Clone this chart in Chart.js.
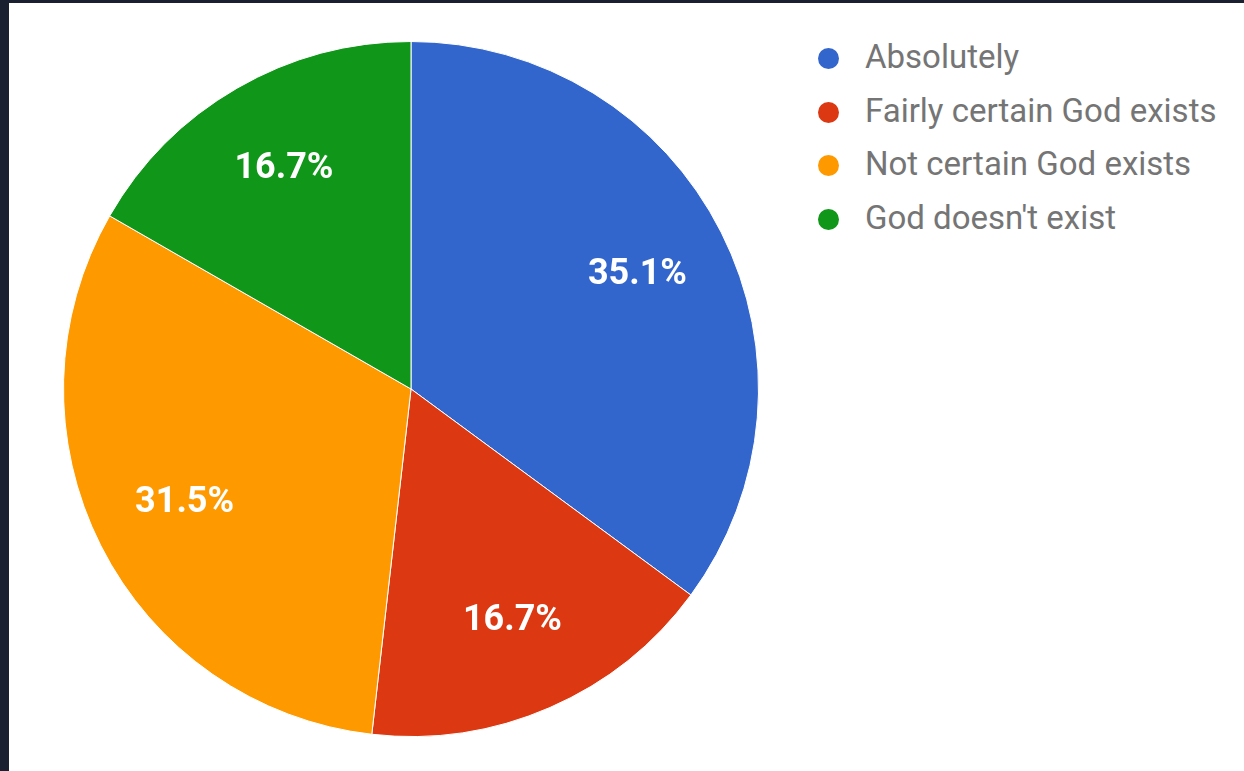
<!DOCTYPE html>
<html>
<head>
<meta charset="utf-8">
<script src="https://cdn.jsdelivr.net/npm/chart.js@4"></script>
<style>
  html, body { margin: 0; padding: 0; }
  body { width: 1244px; height: 771px; background: #1b2030; position: relative; overflow: hidden; }
  #panel { position: absolute; left: 9px; top: 3px; right: 0; bottom: 0; background: #fff; }
  #pieBox { position: absolute; left: 63px; top: 41px; width: 696px; height: 696px; }
  #legend { position: absolute; left: 818px; top: 30px; margin: 0; padding: 0; list-style: none;
            font-family: Roboto, Arial, sans-serif; font-size: 33px; color: #757575; }
  #legend li { height: 53.5px; line-height: 53.5px; white-space: nowrap; }
  #legend span.dot { display: inline-block; width: 21px; height: 21px; border-radius: 50%;
                     margin-right: 26px; vertical-align: -1px; }
</style>
</head>
<body>
<div id="panel"></div>
<div id="pieBox"><canvas id="myPieChart"></canvas></div>
<ul id="legend"></ul>
<script>
  // 回答の項目
  const categories = ['Absolutely', 'Fairly certain God exists', 'Not certain God exists', "God doesn't exist"];
  // 割合（%）
  const shares = [35.1, 16.7, 31.5, 16.7];
  // 色
  const sliceColors = ['#3366cc', '#dc3912', '#ff9900', '#109618'];

  // 凡例を作る
  const legendEl = document.getElementById('legend');
  categories.forEach(function (name, i) {
    const li = document.createElement('li');
    const dot = document.createElement('span');
    dot.className = 'dot';
    dot.style.background = sliceColors[i];
    li.appendChild(dot);
    li.appendChild(document.createTextNode(name));
    legendEl.appendChild(li);
  });

  // スライスの上に割合を書くプラグイン
  const sliceLabels = {
    id: 'sliceLabels',
    afterDatasetsDraw: function (chart) {
      const ctx = chart.ctx;
      const data = chart.data.datasets[0].data;
      const total = data.reduce(function (a, b) { return a + b; }, 0);
      ctx.save();
      ctx.fillStyle = '#ffffff';
      ctx.font = 'bold 36px Roboto, Arial, sans-serif';
      ctx.textAlign = 'center';
      ctx.textBaseline = 'middle';
      chart.getDatasetMeta(0).data.forEach(function (arc, i) {
        const p = arc.getProps(['x', 'y', 'startAngle', 'endAngle', 'outerRadius'], true);
        const mid = (p.startAngle + p.endAngle) / 2;
        const r = p.outerRadius * 0.73;
        const text = (data[i] / total * 100).toFixed(1) + '%';
        ctx.fillText(text, p.x + Math.cos(mid) * r, p.y + Math.sin(mid) * r);
      });
      ctx.restore();
    }
  };

  const ctx = document.getElementById('myPieChart').getContext('2d');
  const myPieChart = new Chart(ctx, {
    type: 'pie',
    data: {
      labels: categories,
      datasets: [{
        data: shares,
        backgroundColor: sliceColors,
        borderColor: '#ffffff',
        borderWidth: 1,
        hoverOffset: 0
      }]
    },
    options: {
      responsive: true,
      maintainAspectRatio: false,
      animation: false,
      layout: { padding: 0 },
      plugins: {
        legend: { display: false },
        tooltip: { enabled: false }
      }
    },
    plugins: [sliceLabels]
  });
</script>
</body>
</html>
